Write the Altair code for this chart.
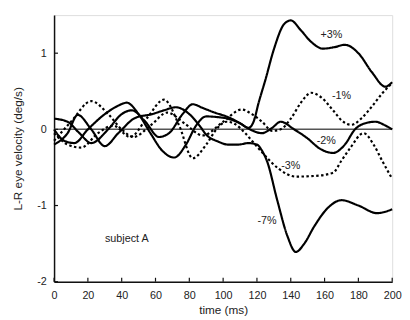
import altair as alt
import pandas as pd

# ---- data ----
p3_t = [0, 6, 12, 20, 30, 37, 43, 50, 57, 64, 71, 78, 84, 90, 97, 103, 110, 115, 118, 121, 125, 130, 136, 140, 146, 152, 159, 166, 172, 180, 188, 196, 200]
p3_v = [0.0, -0.15, -0.18, 0.0, 0.2, 0.3, 0.35, 0.2, -0.05, -0.28, -0.37, -0.2, 0.05, 0.17, 0.16, 0.14, 0.08, 0.02, 0.1, 0.35, 0.65, 1.05, 1.38, 1.43, 1.3, 1.15, 1.06, 1.08, 1.11, 1.0, 0.75, 0.56, 0.62]

m7_t = [0, 8, 14, 22, 30, 38, 48, 58, 65, 72, 80, 86, 90, 97, 103, 109, 115, 120, 123, 126, 132, 138, 143, 148, 154, 162, 170, 180, 191, 200]
m7_v = [-0.2, -0.05, 0.19, 0.0, -0.22, -0.05, 0.15, 0.2, 0.25, 0.29, 0.2, 0.05, -0.07, -0.16, -0.2, -0.2, -0.18, -0.2, -0.28, -0.42, -0.93, -1.4, -1.61, -1.5, -1.27, -1.03, -0.93, -1.0, -1.1, -1.05]

m2_t = [0, 8, 15, 22, 32, 40, 46, 54, 62, 68, 76, 82, 88, 95, 103, 110, 115, 123, 129, 134, 142, 150, 157, 165, 172, 178, 184, 190, 196, 200]
m2_v = [0.14, 0.1, -0.05, -0.18, 0.0, 0.2, 0.25, 0.1, -0.1, -0.05, 0.2, 0.33, 0.28, 0.22, 0.16, 0.08, 0.01, -0.05, 0.02, 0.1, 0.0, -0.12, -0.25, -0.31, -0.2, 0.0, 0.08, 0.1, 0.05, 0.0]

m1_t = [0, 10, 22, 32, 40, 47, 57, 67, 77, 88, 100, 111, 117, 123, 129, 134, 140, 146, 152, 158, 165, 171, 176, 182, 188, 194, 200]
m1_v = [-0.15, 0.1, 0.37, 0.2, 0.0, -0.1, 0.05, 0.22, 0.08, -0.08, 0.1, 0.26, 0.2, 0.1, -0.02, 0.0, 0.14, 0.35, 0.48, 0.42, 0.25, 0.1, 0.06, 0.15, 0.3, 0.47, 0.61]

m3_t = [0, 8, 16, 26, 35, 45, 55, 65, 74, 82, 90, 96, 102, 107, 113, 119, 125, 133, 143, 155, 165, 170, 175, 183, 189, 194, 200]
m3_v = [-0.05, -0.2, -0.24, -0.05, 0.05, -0.1, 0.15, 0.39, 0.05, -0.38, -0.2, 0.0, 0.1, 0.07, -0.05, -0.2, -0.35, -0.52, -0.62, -0.61, -0.57, -0.41, -0.25, -0.05, -0.2, -0.41, -0.65]

series_names = ["+3%", "-7%", "-2%", "-1%", "-3%"]
series_styles = ["solid", "solid", "solid", "dotted", "dotted"]
series_t = [p3_t, m7_t, m2_t, m1_t, m3_t]
series_v = [p3_v, m7_v, m2_v, m1_v, m3_v]

label_text = ["+3%", "-1%", "-2%", "-3%", "-7%", "subject A"]
label_t = [164, 170, 161, 140, 126, 43]
label_v = [1.24, 0.44, -0.16, -0.48, -1.21, -1.44]

x_ticks = [0, 20, 40, 60, 80, 100, 120, 140, 160, 180, 200]
y_ticks = [-2, -1, 0, 1]

rows = []
for name, style, ts, vs in zip(series_names, series_styles, series_t, series_v):
    for t, v in zip(ts, vs):
        rows.append({"series": name, "style": style, "t": t, "v": v})
df = pd.DataFrame(rows)

W, H = 345, 272
FONT = "Liberation Sans"

xscale = alt.Scale(domain=[0, 200], nice=False, zero=False)
yscale = alt.Scale(domain=[-2, 1.5], nice=False, zero=False)

xaxis = alt.Axis(values=x_ticks, title="time (ms)", tickSize=0, labelPadding=8,
                 labelOverlap=False, labelFlush=False,
                 grid=False, domainColor="#111", domainWidth=1.5,
                 labelFont=FONT, labelFontSize=11, labelColor="#222",
                 titleFont=FONT, titleFontSize=12, titleFontWeight="normal",
                 titleColor="#222", titlePadding=4)
yaxis = alt.Axis(values=y_ticks, title="L-R eye velocity (deg/s)", tickSize=0,
                 labelPadding=8, labelOverlap=False, labelFlush=False,
                 labelExpr="'' + datum.value",
                 grid=False, domainColor="#111", domainWidth=1.5,
                 labelFont=FONT, labelFontSize=11, labelColor="#222",
                 titleFont=FONT, titleFontSize=12, titleFontWeight="normal",
                 titleColor="#222", titleX=-37, titleY=H / 2,
                 titleAngle=270, titleBaseline="middle", titleAlign="center")

X = lambda: alt.X("t:Q", scale=xscale, axis=xaxis)
Y = lambda: alt.Y("v:Q", scale=yscale, axis=yaxis)

zero_df = pd.DataFrame({"t": [0, 200], "v": [0, 0]})
zero = alt.Chart(zero_df).mark_line(color="#555", strokeWidth=1.5).encode(x=X(), y=Y())

lines = alt.Chart(df).mark_line(interpolate="monotone", strokeWidth=2.2, color="black",
                                strokeCap="butt").encode(
    x=X(), y=Y(),
    detail="series:N",
    strokeDash=alt.StrokeDash("style:N",
                              scale=alt.Scale(domain=["solid", "dotted"], range=[[1, 0], [2.5, 2.5]]),
                              legend=None),
)

xt = alt.Chart(pd.DataFrame({"t": x_ticks})).mark_rule(color="#111", strokeWidth=1.2).encode(
    x=X(), y=alt.value(H - 4), y2=alt.value(H))
yt = alt.Chart(pd.DataFrame({"v": y_ticks})).mark_rule(color="#111", strokeWidth=1.2).encode(
    y=Y(), x=alt.value(0), x2=alt.value(4))

labels = alt.Chart(pd.DataFrame({"label": label_text, "t": label_t, "v": label_v})).mark_text(
    font=FONT, fontSize=11, color="#222").encode(x=X(), y=Y(), text="label:N")

chart = alt.layer(zero, lines, xt, yt, labels).properties(
    width=W, height=H,
    autosize=alt.AutoSizeParams(type="none"),
    padding={"left": 47, "top": 4, "right": 10, "bottom": 44},
).configure_view(stroke=None).configure(background="white")

chart.save("out.html", embed_options={"renderer": "svg", "actions": False})
